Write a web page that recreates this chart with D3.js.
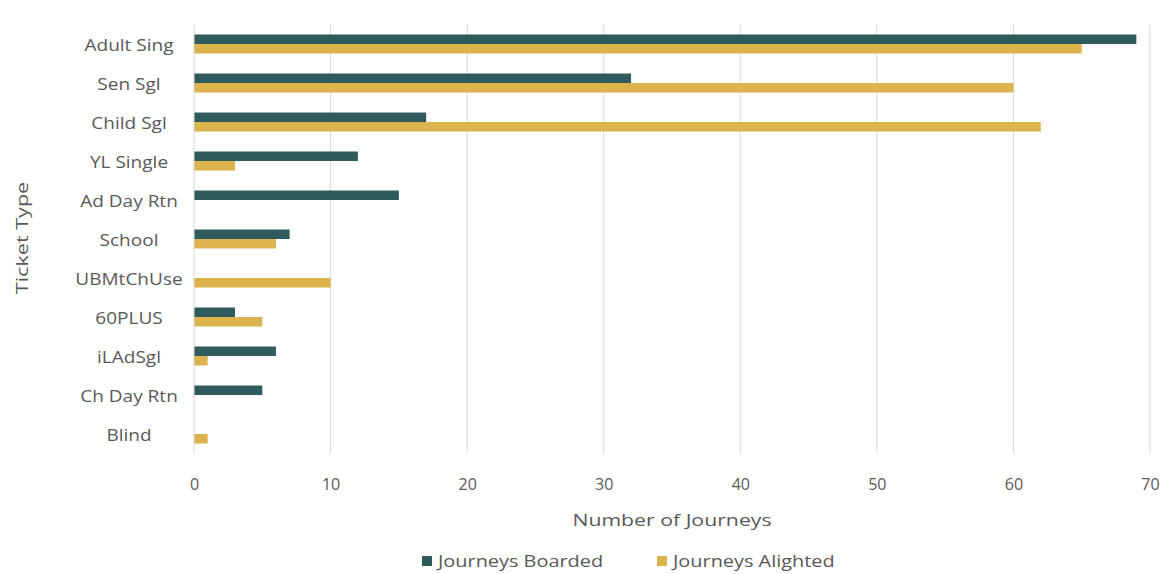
<!DOCTYPE html>
<html><head><meta charset="utf-8">
<script src="https://cdn.jsdelivr.net/npm/d3@7"></script>
<style>
body{margin:0;background:#fff;}
text{font-family:"Open Sans","Noto Sans",sans-serif;fill:#595959;}
</style></head>
<body><svg id="c" width="1166" height="574"></svg>
<script>
const categories = ["Adult Sing","Sen Sgl","Child Sgl","YL Single","Ad Day Rtn","School","UBMtChUse","60PLUS","iLAdSgl","Ch Day Rtn","Blind"];
const boarded =  [69,32,17,12,15,7,0,3,6,5,0];
const alighted = [65,60,62,3,0,6,10,5,1,0,1];
const seriesNames = ["Journeys Boarded","Journeys Alighted"];
const colors = ["#2F5B5D","#DDB34E"];
const xTicks = [0,10,20,30,40,50,60,70];

const svg = d3.select("#c");
const L=194, R=1150, T=24.5, B=453.5;
const x = d3.scaleLinear().domain([0,70]).range([L,R]);
const y = d3.scaleBand().domain(categories).range([T,B]);
const inner = d3.scaleBand().domain([0,1]).range([y.bandwidth()/2-9.5, y.bandwidth()/2+9.5]).padding(0);

function label(parent, px, py, txt, size, sx, anchor, rot){
  const g = parent.append("g").attr("transform",`translate(${px},${py})${rot?` rotate(${rot})`:""} scale(${sx},1)`);
  g.append("text").attr("text-anchor",anchor).attr("dy","0.35em").attr("font-size",size).text(txt);
  return g;
}

// gridlines
svg.append("g").selectAll("line").data(xTicks.slice(1)).join("line")
  .attr("x1",d=>x(d)).attr("x2",d=>x(d)).attr("y1",T).attr("y2",B)
  .attr("stroke","#d9d9d9").attr("stroke-width",1);

// bars
const data=[boarded,alighted];
data.forEach((arr,si)=>{
  svg.append("g").selectAll("rect").data(categories).join("rect")
    .attr("x",x(0)).attr("y",(d)=>y(d)+inner(si))
    .attr("width",(d,i)=>x(arr[i])-x(0)).attr("height",inner.bandwidth())
    .attr("fill",colors[si]);
});

// y axis line
svg.append("line").attr("x1",L).attr("x2",L).attr("y1",T).attr("y2",B).attr("stroke","#d9d9d9");

// category labels
const cg = svg.append("g");
categories.forEach(c=>label(cg,129,y(c)+y.bandwidth()/2+1,c,17,1.12,"middle"));

// x tick labels
const xa = d3.axisBottom(x).tickValues(xTicks).tickSize(0).tickPadding(0);
const g = svg.append("g").attr("transform",`translate(0,${484})`).call(xa);
g.select(".domain").remove();
g.selectAll("text").attr("font-size",16).attr("dy","0.35em").style("font-family",'"Open Sans","Noto Sans",sans-serif').attr("fill","#595959");

// axis titles
label(svg,672,520,"Number of Journeys",17,1.25,"middle");
label(svg,22,238,"Ticket Type",17,1.27,"middle",-90);

// legend
const lx=[422,657];
seriesNames.forEach((n,i)=>{
  svg.append("rect").attr("x",lx[i]).attr("y",556).attr("width",10).attr("height",10).attr("fill",colors[i]);
  label(svg,lx[i]+16,561,n,17,1.17,"start");
});
</script></body></html>
